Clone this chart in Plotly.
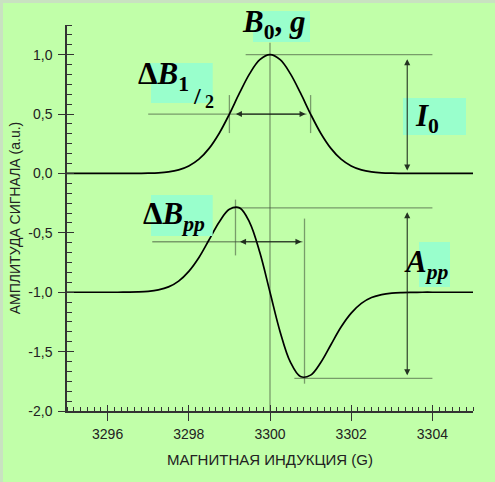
import plotly.graph_objects as go

# ---------------- data ----------------
field_G = [3295.00, 3295.25, 3295.50, 3295.75, 3296.00, 3296.25, 3296.50, 3296.75,
           3297.00, 3297.25, 3297.50, 3297.75, 3298.00, 3298.25, 3298.50, 3298.75,
           3299.00, 3299.25, 3299.50, 3299.75, 3300.00, 3300.25, 3300.50, 3300.75,
           3301.00, 3301.25, 3301.50, 3301.75, 3302.00, 3302.25, 3302.50, 3302.75,
           3303.00, 3303.25, 3303.50, 3303.75, 3304.00, 3304.25, 3304.50, 3304.75,
           3305.00]

absorption = [0.000, 0.000, 0.000, 0.000, 0.000, 0.000, 0.000, 0.001,
              0.002, 0.005, 0.013, 0.030, 0.063, 0.120, 0.211, 0.339,
              0.500, 0.678, 0.841, 0.958, 1.000, 0.958, 0.841, 0.678,
              0.500, 0.339, 0.211, 0.120, 0.063, 0.030, 0.013, 0.005,
              0.002, 0.001, 0.000, 0.000, 0.000, 0.000, 0.000, 0.000,
              0.000]

derivative = [-1.000, -1.000, -1.000, -1.000, -1.000, -1.000, -0.999, -0.997,
              -0.992, -0.980, -0.955, -0.906, -0.824, -0.707, -0.558, -0.408,
              -0.302, -0.290, -0.413, -0.666, -1.000, -1.334, -1.587, -1.710,
              -1.698, -1.592, -1.442, -1.293, -1.176, -1.094, -1.045, -1.020,
              -1.008, -1.003, -1.001, -1.000, -1.000, -1.000, -1.000, -1.000,
              -1.000]

x_tick_vals = [3296, 3298, 3300, 3302, 3304]
x_tick_text = ["3296", "3298", "3300", "3302", "3304"]
y_tick_vals = [-2.0, -1.5, -1.0, -0.5, 0.0, 0.5, 1.0]
y_tick_text = ["-2,0", "-1,5", "-1,0", "-0,5", "0,0", "0,5", "1,0"]

x_title = "МАГНИТНАЯ ИНДУКЦИЯ (G)"
y_title = "АМПЛИТУДА СИГНАЛА (a.u.)"

# ---------------- style ----------------
BG = "#c1ffa9"
AX = "#333333"
GUIDE = "rgba(60,75,55,0.55)"
HEAD = "rgba(20,30,20,0.9)"
BOX = "#99ffcc"
SERIF = "Liberation Serif"
SANS = "Liberation Sans"

W, H = 495, 482
ML, MR, MT, MB = 67, 22, 25, 71
PW, PH = W - ML - MR, H - MT - MB


def pxx(p):
    return (p - ML) / PW


def pxy(p):
    return (H - MB - p) / PH


fig = go.Figure()
fig.add_trace(go.Scatter(x=field_G, y=absorption, mode="lines",
                         line=dict(color="black", width=1.7, shape="spline", smoothing=1.0),
                         showlegend=False, hoverinfo="skip"))
fig.add_trace(go.Scatter(x=field_G, y=derivative, mode="lines",
                         line=dict(color="black", width=1.7, shape="spline", smoothing=1.0),
                         showlegend=False, hoverinfo="skip"))
# empty trace to activate overlay axes (inner half of the major ticks)
fig.add_trace(go.Scatter(x=[None], y=[None], xaxis="x2", yaxis="y2",
                         showlegend=False, hoverinfo="skip"))

shapes = []


def seg(x0, y0, x1, y1):
    shapes.append(dict(type="line", xref="x", yref="y", x0=x0, y0=y0, x1=x1, y1=y1,
                       line=dict(color=GUIDE, width=1.3), layer="below"))


# upper (absorption) guides
seg(3299.4, 1.0, 3304.0, 1.0)
seg(3300.0, 1.1, 3300.0, -2.0)
seg(3297.0, 0.5, 3300.9, 0.5)
seg(3299.0, 0.34, 3299.0, 0.66)
seg(3301.0, 0.34, 3301.0, 0.66)
# lower (derivative) guides
seg(3299.1, -0.289, 3304.0, -0.289)
seg(3299.15, -0.22, 3299.15, -0.69)
seg(3300.85, -0.38, 3300.85, -1.77)
seg(3297.1, -0.575, 3300.8, -0.575)
seg(3300.6, -1.725, 3304.0, -1.725)

# frame strips (top and left)
shapes.append(dict(type="rect", xref="paper", yref="paper", x0=pxx(0), x1=pxx(W), y0=pxy(3), y1=pxy(0),
                   fillcolor="#c9e2c1", line=dict(width=0), layer="below"))
shapes.append(dict(type="rect", xref="paper", yref="paper", x0=pxx(0), x1=pxx(3), y0=pxy(H), y1=pxy(0),
                   fillcolor="#c9e2c1", line=dict(width=0), layer="below"))


def box(x0, y0, x1, y1):
    shapes.append(dict(type="rect", xref="paper", yref="paper", x0=pxx(x0), x1=pxx(x1),
                       y0=pxy(y1), y1=pxy(y0), fillcolor=BOX, line=dict(width=0), layer="above"))


box(253, 11, 310, 42)      # B0, g
box(151, 63, 212.7, 103)   # dB 1/2
box(403, 98, 466, 135)     # I0
box(151, 195, 212.7, 236)  # dB pp
box(419, 242, 450, 287)    # A pp

annotations = []


def arrow(x0, y0, x1, y1, so):
    annotations.append(dict(x=x1, y=y1, ax=x0, ay=y0, xref="x", yref="y", axref="x", ayref="y",
                            text="", showarrow=True, arrowside="end+start", arrowhead=2,
                            startarrowhead=2, arrowsize=1.1, startarrowsize=1.1, arrowwidth=1.1,
                            arrowcolor=HEAD, standoff=so, startstandoff=so))


arrow(3299.0, 0.5, 3301.0, 0.5, 5)
arrow(3303.38, 1.0, 3303.38, 0.0, 3)
arrow(3299.15, -0.575, 3300.85, -0.575, 3)
arrow(3303.38, -0.289, 3303.38, -1.725, 3)


def label(text, x, yc, size=31):
    annotations.append(dict(text=text, xref="paper", yref="paper", x=pxx(x), y=pxy(yc),
                            xanchor="left", yanchor="middle", showarrow=False,
                            font=dict(family=SERIF, size=size, color="black")))


label("<b><i>B</i><sub>0</sub>,<i> g</i></b>", 240, 24)
label("<b>Δ<i>B</i><sub>1</sub></b>", 136, 76)
label("<b>/</b>", 191, 96, 24)
label("<b>2</b>", 203, 102, 18)
label("<b>Δ<i>B</i><sub><i>pp</i></sub></b>", 141, 216)
label("<b><i>I</i><sub>0</sub></b>", 413, 118)
label("<b><i>A</i><sub><i>pp</i></sub></b>", 402, 264)

tickfont = dict(family=SANS, size=14, color="#222222")

fig.update_layout(
    width=W, height=H,
    margin=dict(l=ML, r=MR, t=MT, b=MB, autoexpand=False),
    paper_bgcolor=BG, plot_bgcolor=BG,
    shapes=shapes, annotations=annotations,
    xaxis=dict(range=[3295, 3305], tickmode="array", tickvals=x_tick_vals, ticktext=x_tick_text,
               ticks="outside", ticklen=8, tickwidth=1.4, tickcolor=AX,
               showline=True, linecolor=AX, linewidth=1.5, showgrid=False, zeroline=False,
               tickfont=tickfont, ticklabelstandoff=1,
               minor=dict(tickmode="linear", tick0=3295, dtick=1 / 6, ticks="inside", ticklen=4,
                          tickwidth=1, tickcolor=AX, showgrid=False),
               title=dict(text=x_title, font=dict(family=SANS, size=15, color="#222222"), standoff=14),
               fixedrange=True),
    yaxis=dict(range=[-2.0, 1.25], tickmode="array", tickvals=y_tick_vals, ticktext=y_tick_text,
               ticks="outside", ticklen=7, tickwidth=1.4, tickcolor=AX,
               showline=True, linecolor=AX, linewidth=1.5, showgrid=False, zeroline=False,
               tickfont=tickfont, ticklabelstandoff=3,
               minor=dict(tickmode="linear", tick0=0, dtick=1 / 12, ticks="inside", ticklen=5,
                          tickwidth=1, tickcolor=AX, showgrid=False),
               title=dict(text=y_title, font=dict(family=SANS, size=14, color="#222222"), standoff=4),
               fixedrange=True),
    xaxis2=dict(overlaying="x", range=[3295, 3305], tickmode="array", tickvals=x_tick_vals,
                ticks="inside", ticklen=6, tickwidth=1.4, tickcolor=AX, showticklabels=False,
                showline=False, showgrid=False, zeroline=False, side="bottom", anchor="y2"),
    yaxis2=dict(overlaying="y", range=[-2.0, 1.25], tickmode="array", tickvals=y_tick_vals,
                ticks="inside", ticklen=7, tickwidth=1.4, tickcolor=AX, showticklabels=False,
                showline=False, showgrid=False, zeroline=False, side="left", anchor="x2"),
    showlegend=False,
)

fig.write_html("out.html", config={"displayModeBar": False},
               post_script="document.body.style.margin='0';document.body.style.background='%s';" % BG)
